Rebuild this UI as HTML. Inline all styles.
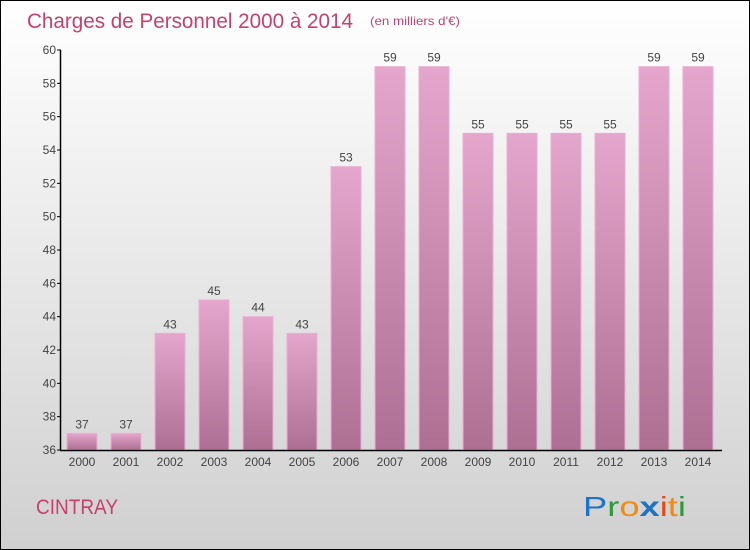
<!DOCTYPE html>
<html><head><meta charset="utf-8"><style>
body{margin:0}
#c{width:750px;height:550px;position:relative;box-sizing:border-box;border:1px solid #000;background:linear-gradient(#ffffff,#d0d0d0);font-family:"Liberation Sans",sans-serif;overflow:hidden}
</style></head><body>
<div id="c">
<svg width="750" height="550" style="position:absolute;left:-1px;top:-1px">
<defs>
<linearGradient id="g" x1="0" y1="0" x2="0" y2="1"><stop offset="0" stop-color="#e4a6cc"/><stop offset="1" stop-color="#ad6f92"/></linearGradient>
</defs>
<text x="27" y="28" font-size="21" textLength="326" lengthAdjust="spacingAndGlyphs" fill="#c8406e">Charges de Personnel 2000 à 2014</text>
<text x="370" y="25" font-size="12" textLength="90" lengthAdjust="spacingAndGlyphs" fill="#c8406e">(en milliers d'€)</text>
<g id="plot"></g>
<text x="36" y="514" font-size="21" textLength="82" lengthAdjust="spacingAndGlyphs" fill="#c8406e">CINTRAY</text>
<g font-size="28">
<text x="583" y="516" textLength="103" lengthAdjust="spacingAndGlyphs"><tspan fill="#1a74c8">P</tspan><tspan fill="#2e9a3a">r</tspan><tspan fill="#f08a10">o</tspan><tspan fill="#1a74c8" font-weight="bold">x</tspan><tspan fill="#e84818">i</tspan><tspan fill="#f08a10">t</tspan><tspan fill="#2e9a3a">i</tspan></text>
</g>
</svg>
</div>
<script>
const categories=["2000","2001","2002","2003","2004","2005","2006","2007","2008","2009","2010","2011","2012","2013","2014"];
const values=[37,37,43,45,44,43,53,59,59,55,55,55,55,59,59];
const yTicks=[36,38,40,42,44,46,48,50,52,54,56,58,60];
const NS="http://www.w3.org/2000/svg";
const g=document.getElementById('plot');
const y=v=>450-(v-36)*400/24;
const x=i=>82+i*44;
function mk(t,a,txt){const e=document.createElementNS(NS,t);for(const k in a)e.setAttribute(k,a[k]);if(txt!==undefined)e.textContent=txt;g.appendChild(e);return e;}
values.forEach((v,i)=>{
 const r=mk('rect',{x:x(i)-15,y:y(v),width:30,height:450-y(v),fill:'url(#g)',stroke:'#e8b0d0','stroke-width':1});
 
 
 const t=mk('text',{x:x(i),y:y(v)-5,'font-size':12,fill:'#444','text-anchor':'middle'},String(v));
 
 
 const c=mk('text',{x:x(i),y:466,'font-size':12,fill:'#444','text-anchor':'middle'},categories[i]);
 
 
});
yTicks.forEach(v=>{
 const l=mk('line',{x1:57,x2:61,y1:y(v),y2:y(v),stroke:'#000'});
 
 
 const t=mk('text',{x:56,y:y(v)+4,'font-size':12,fill:'#444','text-anchor':'end'},String(v));
 
 
});
const ya=mk('line',{x1:60.5,x2:60.5,y1:50,y2:450.5,stroke:'#000','stroke-width':1.5});


const xa=mk('line',{x1:60,x2:722,y1:450.5,y2:450.5,stroke:'#000','stroke-width':1.5});


</script>
</body></html>
